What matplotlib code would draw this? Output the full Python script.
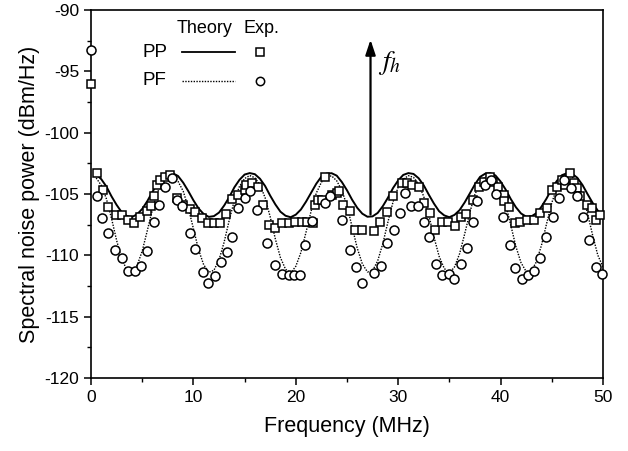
import matplotlib
matplotlib.use("Agg")
from matplotlib import pyplot as plt
from matplotlib.ticker import MultipleLocator

plt.rcParams['font.family'] = ['Liberation Sans', 'DejaVu Sans']
plt.rcParams['mathtext.fontset'] = 'stix'
plt.rcParams['axes.unicode_minus'] = False

# theory curves, every 0.5 MHz
freq_theory = [0.5 * i for i in range(1, 101)]
pp_theory = [
    -103.40, -103.80, -104.40, -105.20, -105.90, -106.50, -106.80, -106.88, -106.66, -106.22,
    -105.58, -104.83, -104.12, -103.56, -103.32, -103.32, -103.54, -104.08, -104.77, -105.52,
    -106.18, -106.64, -106.87, -106.81, -106.52, -105.95, -105.26, -104.46, -103.85, -103.42,
    -103.30, -103.39, -103.76, -104.35, -105.14, -105.85, -106.45, -106.78, -106.90, -106.69,
    -106.27, -105.63, -104.90, -104.17, -103.59, -103.34, -103.31, -103.51, -104.03, -104.70,
    -105.47, -106.13, -106.61, -106.86, -106.83, -106.55, -106.00, -105.31, -104.52, -103.90,
    -103.45, -103.30, -103.37, -103.72, -104.30, -105.07, -105.79, -106.41, -106.75, -106.90,
    -106.71, -106.32, -105.69, -104.96, -104.22, -103.61, -103.35, -103.31, -103.49, -103.98,
    -104.64, -105.41, -106.08, -106.59, -106.85, -106.84, -106.57, -106.04, -105.37, -104.59,
    -103.94, -103.47, -103.31, -103.36, -103.68, -104.26, -105.01, -105.73, -106.36, -106.73,
]
pf_theory = [
    -103.70, -104.30, -105.40, -107.00, -108.80, -110.30, -111.20, -111.40, -110.83, -109.65,
    -107.97, -106.26, -104.85, -104.02, -103.56, -103.55, -103.98, -104.77, -106.14, -107.83,
    -109.54, -110.77, -111.38, -111.23, -110.38, -108.93, -107.14, -105.53, -104.38, -103.75,
    -103.50, -103.68, -104.25, -105.30, -106.87, -108.66, -110.19, -111.14, -111.45, -110.90,
    -109.77, -108.12, -106.39, -104.94, -104.05, -103.58, -103.53, -103.93, -104.71, -105.95,
    -107.68, -109.41, -110.70, -111.36, -111.26, -110.46, -109.06, -107.29, -105.65, -104.46,
    -103.80, -103.51, -103.65, -104.20, -105.21, -106.74, -108.52, -110.08, -111.07, -111.45,
    -110.96, -109.88, -108.26, -106.52, -105.04, -104.10, -103.61, -103.52, -103.88, -104.62,
    -105.82, -107.54, -109.28, -110.60, -111.32, -111.30, -110.54, -109.19, -107.43, -105.74,
    -104.54, -103.84, -103.51, -103.62, -104.13, -105.11, -106.58, -108.37, -109.98, -110.94,
]

# measured points
pp_freq = [0.0, 0.55, 1.2, 1.7, 2.4, 3.0, 3.65, 4.2, 4.8, 5.45, 5.9, 6.15, 6.4, 6.75, 7.2, 7.7,
           8.4, 9.0, 9.7, 10.2, 10.8, 11.45, 12.05, 12.6, 13.2, 13.75, 14.4, 15.05, 15.1, 15.7,
           16.35, 16.8, 17.35, 18.0, 18.65, 19.3, 19.95, 20.6, 21.1, 21.7, 21.9, 22.2, 22.55,
           22.9, 23.5, 24.0, 24.2, 24.65, 25.3, 25.8, 26.45, 27.6, 28.25, 28.9, 29.45, 30.35,
           30.85, 31.35, 32.0, 32.5, 33.1, 33.6, 34.3, 34.9, 35.6, 36.1, 36.6, 37.35, 37.85,
           38.35, 39.0, 39.3, 39.8, 40.3, 40.3, 40.8, 41.45, 41.95, 42.6, 43.25, 43.9, 44.5,
           45.05, 45.5, 46.0, 46.3, 46.8, 47.15, 47.5, 47.8, 48.45, 48.95, 49.3, 49.75]
pp_exp = [-96.0, -103.3, -104.7, -106.1, -106.7, -106.7, -107.1, -107.4, -106.85, -106.4, -106.0,
          -105.2, -104.3, -103.85, -103.6, -103.45, -105.35, -105.9, -106.2, -106.45, -107.0,
          -107.4, -107.4, -107.4, -106.6, -105.4, -105.1, -104.7, -104.3, -104.1, -104.4, -105.9,
          -107.5, -107.8, -107.4, -107.4, -107.3, -107.3, -107.3, -107.4, -105.9, -105.5, -105.5,
          -103.6, -105.1, -104.95, -104.8, -105.9, -106.4, -107.9, -107.9, -108.05, -107.25,
          -106.45, -105.2, -104.1, -104.1, -104.25, -104.4, -105.75, -106.55, -107.9, -107.25,
          -107.25, -107.65, -106.85, -106.6, -105.5, -104.4, -104.0, -103.6, -104.0, -104.4,
          -105.1, -105.6, -106.1, -107.4, -107.25, -107.1, -107.1, -106.55, -106.15, -104.7,
          -104.4, -103.85, -104.25, -103.3, -104.1, -104.5, -105.2, -105.9, -106.15, -107.1,
          -106.7]

pf_freq = [0.0, 0.55, 1.05, 1.7, 2.35, 3.0, 3.65, 4.25, 4.85, 5.45, 6.1, 6.6, 7.25, 7.9, 8.4,
           8.85, 9.7, 10.15, 10.9, 11.45, 12.1, 12.7, 13.25, 13.75, 14.4, 15.05, 15.55, 16.2,
           17.2, 18.0, 18.65, 19.3, 19.85, 20.4, 20.9, 21.55, 22.9, 23.35, 24.5, 25.3, 25.85,
           26.5, 27.65, 28.3, 28.9, 29.55, 30.15, 30.7, 31.3, 31.9, 32.5, 33.0, 33.7, 34.3,
           34.95, 35.5, 36.1, 36.7, 37.35, 37.75, 38.45, 39.05, 39.6, 40.25, 40.95, 41.45,
           42.05, 42.65, 43.25, 43.85, 44.4, 45.1, 45.7, 46.25, 46.9, 47.5, 48.05, 48.6,
           49.35, 49.9]
pf_exp = [-93.3, -105.15, -107.0, -108.2, -109.6, -110.25, -111.3, -111.25, -110.85, -109.65,
          -107.3, -105.9, -104.4, -103.7, -105.5, -106.0, -108.2, -109.5, -111.4, -112.3,
          -111.65, -110.55, -109.75, -108.5, -106.15, -105.35, -104.8, -106.3, -109.0, -110.8,
          -111.5, -111.6, -111.6, -111.6, -109.15, -107.2, -105.75, -105.2, -107.1, -109.55,
          -110.95, -112.3, -111.45, -110.9, -109.0, -107.9, -106.55, -104.95, -105.95, -106.0,
          -107.25, -108.5, -110.7, -111.6, -111.5, -111.9, -110.7, -109.4, -107.25, -105.6,
          -104.3, -103.9, -105.0, -106.85, -109.15, -111.0, -111.9, -111.6, -111.25, -110.2,
          -108.5, -106.85, -105.35, -103.9, -104.5, -105.2, -106.9, -108.75, -110.95, -111.55]

fh_freq = 27.3


def main():
    fig = plt.figure(figsize=(6.28, 4.51), dpi=100)
    ax = fig.add_axes([0.145, 0.162, 0.815, 0.816])

    ax.plot(freq_theory, pp_theory, color='black', lw=1.4, zorder=2)
    ax.plot(freq_theory, pf_theory, color='black', lw=1.0, ls=(0, (1, 1)), zorder=2)
    ax.plot(pp_freq, pp_exp, ls='none', marker='s', ms=6, mfc='white', mec='black', mew=1.1,
            clip_on=False, zorder=3)
    ax.plot(pf_freq, pf_exp, ls='none', marker='o', ms=6.5, mfc='white', mec='black', mew=1.1,
            clip_on=False, zorder=3)

    # f_h arrow
    ax.annotate('', xy=(fh_freq, -92.2), xytext=(fh_freq, -106.9),
                arrowprops=dict(arrowstyle='-|>,head_length=0.9,head_width=0.3',
                                color='black', lw=1.6))
    ax.text(fh_freq + 0.7, -94.3, r'$f_h$', fontsize=20, ha='left', va='center')

    # legend drawn by hand like the original
    ax.text(0.168, 0.950, 'Theory', transform=ax.transAxes, fontsize=13, va='center')
    ax.text(0.297, 0.950, 'Exp.', transform=ax.transAxes, fontsize=13, va='center')
    ax.text(0.10, 0.885, 'PP', transform=ax.transAxes, fontsize=13.5, va='center')
    ax.text(0.10, 0.808, 'PF', transform=ax.transAxes, fontsize=13.5, va='center')
    ax.plot([0.178, 0.281], [0.885, 0.885], transform=ax.transAxes, color='black', lw=1.3)
    ax.plot([0.178, 0.281], [0.808, 0.808], transform=ax.transAxes, color='black', lw=1.0,
            ls=(0, (1, 1)))
    ax.plot([0.330], [0.885], transform=ax.transAxes, marker='s', ms=5.5, mfc='white',
            mec='black', mew=1.1)
    ax.plot([0.330], [0.808], transform=ax.transAxes, marker='o', ms=6, mfc='white',
            mec='black', mew=1.1)

    ax.set_xlim(0, 50)
    ax.set_ylim(-120, -90)
    ax.xaxis.set_major_locator(MultipleLocator(10))
    ax.xaxis.set_minor_locator(MultipleLocator(5))
    ax.yaxis.set_major_locator(MultipleLocator(5))
    ax.yaxis.set_minor_locator(MultipleLocator(2.5))
    ax.tick_params(which='both', direction='out', top=False, right=False, labelsize=12.5)
    ax.tick_params(which='major', length=5, width=1.1)
    ax.tick_params(which='minor', length=3, width=1.0)
    for sp in ax.spines.values():
        sp.set_linewidth(1.2)

    ax.set_xlabel('Frequency (MHz)', fontsize=15.5, labelpad=8)
    ax.set_ylabel('Spectral noise power (dBm/Hz)', fontsize=15.5, labelpad=3)

    fig.savefig('out.png', dpi=100)


if __name__ == '__main__':
    main()
